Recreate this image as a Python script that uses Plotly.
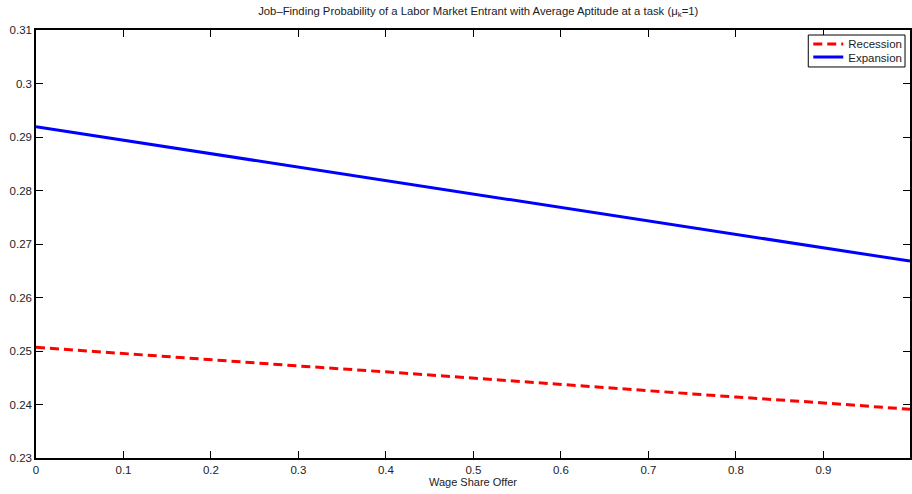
import plotly.graph_objects as go

wage_share = [0.0, 0.1, 0.2, 0.3, 0.4, 0.5, 0.6, 0.7, 0.8, 0.9, 0.999]
recession = [0.2507, 0.2495, 0.2484, 0.2472, 0.2461, 0.2449, 0.2438, 0.2426, 0.2414, 0.2403, 0.2391]
expansion = [0.2919, 0.2894, 0.2869, 0.2844, 0.2819, 0.2794, 0.2769, 0.2744, 0.2718, 0.2693, 0.2668]

x_ticks = [0, 0.1, 0.2, 0.3, 0.4, 0.5, 0.6, 0.7, 0.8, 0.9]
x_tick_labels = ["0", "0.1", "0.2", "0.3", "0.4", "0.5", "0.6", "0.7", "0.8", "0.9"]
y_ticks = [0.23, 0.24, 0.25, 0.26, 0.27, 0.28, 0.29, 0.30, 0.31]
y_tick_labels = ["0.23", "0.24", "0.25", "0.26", "0.27", "0.28", "0.29", "0.3", "0.31"]

font = "Liberation Sans, Arial, Helvetica, sans-serif"

fig = go.Figure()
fig.add_trace(go.Scatter(x=wage_share, y=recession, mode="lines", name="Recession",
                         line=dict(color="#ff0000", width=3, dash="9px,5px"), legend="legend"))
fig.add_trace(go.Scatter(x=wage_share, y=expansion, mode="lines", name="Expansion",
                         line=dict(color="#0000ff", width=3), legend="legend2"))

axis_common = dict(showline=True, linecolor="black", linewidth=1.5, mirror="allticks",
                   ticks="inside", ticklen=7, tickcolor="black", tickwidth=1,
                   showgrid=False, zeroline=False,
                   tickfont=dict(family=font, size=11.5, color="#222"))

fig.update_xaxes(range=[0, 0.999], tickvals=x_ticks, ticktext=x_tick_labels,
                 title=dict(text="Wage Share Offer", font=dict(family=font, size=11, color="#222"), standoff=4),
                 **axis_common)
fig.update_yaxes(range=[0.23, 0.31], tickvals=y_ticks, ticktext=y_tick_labels,
                 **axis_common)

leg_common = dict(xanchor="left", yanchor="middle", borderwidth=0, bgcolor="rgba(0,0,0,0)",
                  font=dict(family=font, size=11.5, color="#222"), itemwidth=30)

fig.update_layout(
    width=912, height=494,
    margin=dict(l=36, r=0, t=30, b=36),
    paper_bgcolor="white", plot_bgcolor="white",
    title=dict(text="Job–Finding Probability of a Labor Market Entrant with Average Aptitude at a task (μ<sub>k</sub>=1)",
               xref="paper", x=0.506, xanchor="center", y=0.978, yanchor="middle",
               font=dict(family=font, size=11.3, color="#222")),
    legend=dict(x=0.8836, y=0.9673, **leg_common),
    legend2=dict(x=0.8836, y=0.9369, **leg_common),
    shapes=[dict(type="rect", xref="paper", yref="paper", x0=0.8836, x1=0.9943, y0=0.9136, y1=0.9883,
                 line=dict(color="black", width=1), fillcolor="white", layer="above")],
    showlegend=True,
)

fig.write_html("out.html")
